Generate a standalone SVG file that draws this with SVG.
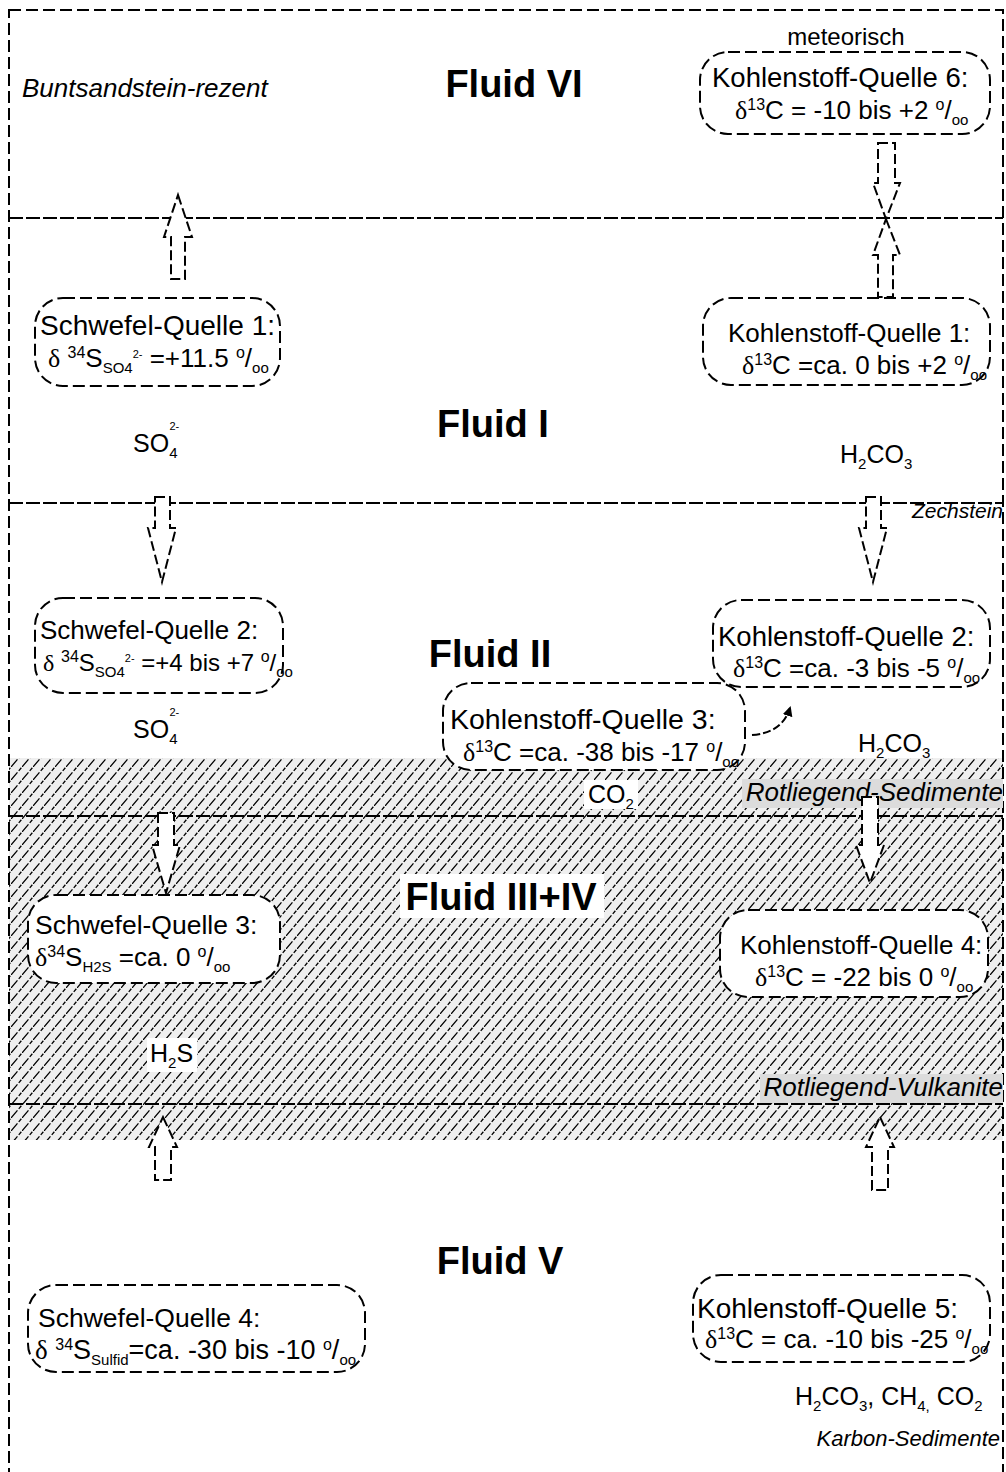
<svg xmlns="http://www.w3.org/2000/svg" width="1006" height="1472" viewBox="0 0 1006 1472">
<style>
text{font-family:"Liberation Sans",Arial,sans-serif;fill:#000}
.t{font-size:26px}
.c{font-size:25px}
.m{font-size:24px}
.fl{font-size:38px;font-weight:bold;text-anchor:middle}
.it{font-size:26px;font-style:italic}
.it2{font-size:22px;font-style:italic}
.d{font-family:"Liberation Serif","Times New Roman",serif}
.sp{font-size:16px}
.sb{font-size:15px}
.tn{font-size:11px}
.box{fill:#fff;stroke:#000;stroke-width:2;stroke-dasharray:12 5}
.hl{stroke:#000;stroke-width:2.2;stroke-dasharray:14 3;fill:none}
.ar{fill:#fff;stroke:#000;stroke-width:2;stroke-dasharray:10 4;stroke-linejoin:miter}
.lbl{fill:#dcdcdc}
</style>
<defs>
<pattern id="hatch" patternUnits="userSpaceOnUse" width="11" height="13">
<rect width="11" height="13" fill="#efefef"/>
<path d="M0,13 L11,0" stroke="#000" stroke-width="1.3" stroke-dasharray="10 2 4 1.03"/>
</pattern>
<marker id="ah" markerWidth="10" markerHeight="10" refX="8" refY="5" orient="auto" markerUnits="userSpaceOnUse">
<path d="M0,0 L10,5 L0,10 Z" fill="#000"/>
</marker>
<clipPath id="page"><rect x="0" y="0" width="1004" height="1472"/></clipPath>
</defs>
<rect width="1006" height="1472" fill="#fff"/>
<g id="hatched-region">
<rect x="9" y="758" width="994" height="382" fill="url(#hatch)"/>
</g>
<rect x="9" y="10" width="994" height="1475" fill="none" stroke="#000" stroke-width="2" stroke-dasharray="12 5"/>
<g id="layer-lines">
<line class="hl" x1="9" y1="218" x2="1003" y2="218"/>
<line class="hl" x1="9" y1="503" x2="1003" y2="503"/>
<line class="hl" x1="9" y1="816" x2="1003" y2="816"/>
<line class="hl" x1="9" y1="1104" x2="1003" y2="1104"/>
</g>
<g id="layer-labels" clip-path="url(#page)">
<text class="it" x="22" y="97">Buntsandstein-rezent</text>
<text class="it2" x="1003" y="518" text-anchor="end" style="font-size:21px">Zechstein</text>
<rect class="lbl" x="742" y="779" width="261" height="29"/>
<text class="it" x="1003" y="801" text-anchor="end">Rotliegend-Sedimente</text>
<rect class="lbl" x="760" y="1074" width="243" height="29"/>
<text class="it" x="1003" y="1096" text-anchor="end">Rotliegend-Vulkanite</text>
<text class="it2" x="1000" y="1446" text-anchor="end">Karbon-Sedimente</text>
<text class="m" x="846" y="45" text-anchor="middle">meteorisch</text>
</g>
<g id="fluids">
<text class="fl" x="514" y="97">Fluid VI</text>
<text class="fl" x="493" y="437">Fluid I</text>
<text class="fl" x="490" y="667">Fluid II</text>
<rect x="400" y="874" width="204" height="44" fill="#fff"/>
<text class="fl" x="501" y="910">Fluid III+IV</text>
<text class="fl" x="500" y="1274">Fluid V</text>
</g>
<g id="species">
<text class="c" x="133" y="452">SO<tspan class="sb" dy="6">4</tspan><tspan class="tn" dx="-8" dy="-28">2-</tspan></text>
<text class="c" x="840" y="463">H<tspan class="sb" dy="6">2</tspan><tspan dy="-6">CO</tspan><tspan class="sb" dy="6">3</tspan></text>
<text class="c" x="133" y="738">SO<tspan class="sb" dy="6">4</tspan><tspan class="tn" dx="-8" dy="-28">2-</tspan></text>
<text class="c" x="858" y="752">H<tspan class="sb" dy="6">2</tspan><tspan dy="-6">CO</tspan><tspan class="sb" dy="6">3</tspan></text>
<rect x="584" y="780" width="54" height="29" fill="#fff"/>
<text class="c" x="588" y="803">CO<tspan class="sb" dy="6">2</tspan></text>
<rect x="147" y="1038" width="50" height="34" fill="#fff"/>
<text class="c" x="150" y="1062">H<tspan class="sb" dy="6">2</tspan><tspan dy="-6">S</tspan></text>
<text class="c" x="795" y="1405">H<tspan class="sb" dy="6">2</tspan><tspan dy="-6">CO</tspan><tspan class="sb" dy="6">3</tspan><tspan dy="-6">, CH</tspan><tspan class="sb" dy="6">4,</tspan><tspan dy="-6"> CO</tspan><tspan class="sb" dy="6">2</tspan></text>
</g>
<g id="connectors">
<polygon class="ar" points="178,195 192,237 185,237 185,279 171,279 171,237 164,237"/>
<polygon class="ar" points="878,143 895,143 895,183 900,183 886,219 873,183 878,183"/>
<polygon class="ar" points="886,219 900,255 893,255 893,297 878,297 878,255 873,255"/>
<polygon class="ar" points="155,497 170,497 170,528 176,528 162,582 148,528 155,528"/>
<polygon class="ar" points="866,497 881,497 881,528 887,528 873,582 859,528 866,528"/>
<polygon class="ar" points="158,813 174,813 174,845 180,845 166,893 152,845 158,845"/>
<polygon class="ar" points="862,797 878,797 878,845 884,845 870,883 856,845 862,845"/>
<polygon class="ar" points="163,1117 177,1147 171,1147 171,1180 155,1180 155,1147 149,1147"/>
<polygon class="ar" points="880,1117 894,1147 888,1147 888,1190 872,1190 872,1147 866,1147"/>
<path d="M752,735 Q782,733 790,708" fill="none" stroke="#000" stroke-width="2" stroke-dasharray="8 3" marker-end="url(#ah)"/>
</g>
<g id="kq6">
<rect class="box" x="700" y="52" width="290" height="82" rx="28"/>
<text class="t" x="712" y="87" style="font-size:27.5px">Kohlenstoff-Quelle 6:</text>
<text class="t" x="735" y="119"><tspan class="d">δ</tspan><tspan class="sp" dy="-9">13</tspan><tspan dy="9">C = -10 bis +2 </tspan><tspan class="sp" dy="-9">o</tspan><tspan dy="9">/</tspan><tspan class="sb" dy="6">oo</tspan></text>
</g>
<g id="sq1">
<rect class="box" x="35" y="298" width="245" height="88" rx="28"/>
<text class="t" x="40" y="335" style="font-size:28px">Schwefel-Quelle 1:</text>
<text class="t" x="48" y="367"><tspan class="d">δ</tspan> <tspan class="sp" dy="-9">34</tspan><tspan dy="9">S</tspan><tspan class="sb" dy="6">SO4</tspan><tspan class="tn" dy="-15">2-</tspan><tspan dy="9"> =+11.5 </tspan><tspan class="sp" dy="-9">o</tspan><tspan dy="9">/</tspan><tspan class="sb" dy="6">oo</tspan></text>
</g>
<g id="kq1">
<rect class="box" x="703" y="298" width="287" height="87" rx="28"/>
<text class="t" x="728" y="342">Kohlenstoff-Quelle 1:</text>
<text class="t" x="742" y="374"><tspan class="d">δ</tspan><tspan class="sp" dy="-9">13</tspan><tspan dy="9">C =ca. 0 bis +2 </tspan><tspan class="sp" dy="-9">o</tspan><tspan dy="9">/</tspan><tspan class="sb" dy="6">oo</tspan></text>
</g>
<g id="sq2">
<rect class="box" x="35" y="598" width="248" height="95" rx="28"/>
<text class="t" x="40" y="639">Schwefel-Quelle 2:</text>
<text class="t" x="43" y="671" style="font-size:24px"><tspan class="d">δ</tspan> <tspan class="sp" dy="-9">34</tspan><tspan dy="9">S</tspan><tspan class="sb" dy="6">SO4</tspan><tspan class="tn" dy="-15">2-</tspan><tspan dy="9"> =+4 bis +7 </tspan><tspan class="sp" dy="-9">o</tspan><tspan dy="9">/</tspan><tspan class="sb" dy="6">oo</tspan></text>
</g>
<g id="kq2">
<rect class="box" x="713" y="600" width="277" height="87" rx="28"/>
<text class="t" x="718" y="646" style="font-size:27.5px">Kohlenstoff-Quelle 2:</text>
<text class="t" x="733" y="677"><tspan class="d">δ</tspan><tspan class="sp" dy="-9">13</tspan><tspan dy="9">C =ca. -3 bis -5 </tspan><tspan class="sp" dy="-9">o</tspan><tspan dy="9">/</tspan><tspan class="sb" dy="6">oo</tspan></text>
</g>
<g id="kq3">
<rect class="box" x="443" y="683" width="302" height="87" rx="28"/>
<text class="t" x="450" y="729" style="font-size:28.5px">Kohlenstoff-Quelle 3:</text>
<text class="t" x="463" y="761"><tspan class="d">δ</tspan><tspan class="sp" dy="-9">13</tspan><tspan dy="9">C =ca. -38 bis -17 </tspan><tspan class="sp" dy="-9">o</tspan><tspan dy="9">/</tspan><tspan class="sb" dy="6">oo</tspan></text>
</g>
<g id="sq3">
<rect class="box" x="28" y="895" width="252" height="88" rx="28"/>
<text class="t" x="35" y="934" style="font-size:26.5px">Schwefel-Quelle 3:</text>
<text class="t" x="35" y="966"><tspan class="d">δ</tspan><tspan class="sp" dy="-9">34</tspan><tspan dy="9">S</tspan><tspan class="sb" dy="6">H2S</tspan><tspan dy="-6"> =ca. 0 </tspan><tspan class="sp" dy="-9">o</tspan><tspan dy="9">/</tspan><tspan class="sb" dy="6">oo</tspan></text>
</g>
<g id="kq4">
<rect class="box" x="720" y="910" width="268" height="87" rx="28"/>
<text class="t" x="740" y="954">Kohlenstoff-Quelle 4:</text>
<text class="t" x="755" y="986"><tspan class="d">δ</tspan><tspan class="sp" dy="-9">13</tspan><tspan dy="9">C = -22 bis 0 </tspan><tspan class="sp" dy="-9">o</tspan><tspan dy="9">/</tspan><tspan class="sb" dy="6">oo</tspan></text>
</g>
<g id="sq4">
<rect class="box" x="28" y="1285" width="337" height="87" rx="28"/>
<text class="t" x="38" y="1327" style="font-size:26.5px">Schwefel-Quelle 4:</text>
<text class="t" x="35" y="1359" style="font-size:27px"><tspan class="d">δ</tspan> <tspan class="sp" dy="-9">34</tspan><tspan dy="9">S</tspan><tspan class="sb" dy="6">Sulfid</tspan><tspan dy="-6">=ca. -30 bis -10 </tspan><tspan class="sp" dy="-9">o</tspan><tspan dy="9">/</tspan><tspan class="sb" dy="6">oo</tspan></text>
</g>
<g id="kq5">
<rect class="box" x="693" y="1275" width="297" height="87" rx="28"/>
<text class="t" x="697" y="1318" style="font-size:28px">Kohlenstoff-Quelle 5:</text>
<text class="t" x="705" y="1348"><tspan class="d">δ</tspan><tspan class="sp" dy="-9">13</tspan><tspan dy="9">C = ca. -10 bis -25 </tspan><tspan class="sp" dy="-9">o</tspan><tspan dy="9">/</tspan><tspan class="sb" dy="6">oo</tspan></text>
</g>
</svg>
